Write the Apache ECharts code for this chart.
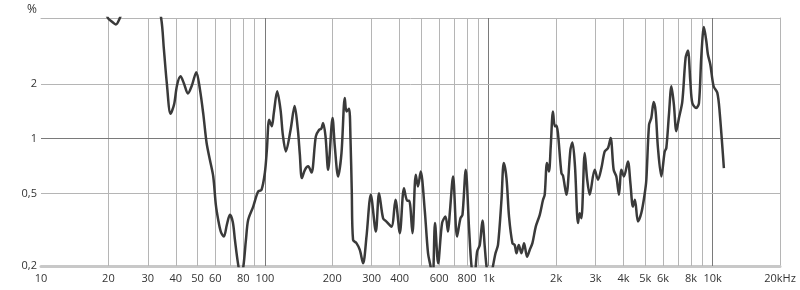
<!DOCTYPE html>
<html>
<head>
<meta charset="utf-8">
<script src="https://cdn.jsdelivr.net/npm/echarts@6/dist/echarts.min.js"></script>
<style>
html,body{margin:0;padding:0;background:#fff;}
#chart{width:800px;height:290px;}
</style>
</head>
<body>
<div id="chart"></div>
<script>
// Frequency (Hz)
const freq = [
18.3, 19.9, 20.7, 21.6, 22.5, 23.7, 27.7, 32.3, 34.4, 35.4, 36.5, 37.9, 39.3, 40.5, 42.0, 43.5, 45.3, 47.2, 49.4, 51.3,
53.1, 54.9, 56.8, 58.8, 60.4, 61.9, 63.6, 65.6, 67.6, 69.8, 71.9, 73.5, 75.7, 78.1, 80.2, 82.3, 84.2, 88.7, 93.3, 96.6,
100, 102.1, 104.5, 107.4, 109.7, 113.5, 117.5, 120.3, 124.1, 130.3, 135.8, 140.4, 143.3, 146.3, 151.0, 156.1, 161.6, 168.9, 174.8, 178.7,
182.0, 186.6, 191.7, 200.6, 205.3, 212.4, 219.9, 227.5, 231.5, 237.7, 241.3, 244.4, 247.7, 256.5, 265.5, 274.7, 284.4, 297.3, 313.1, 323.6,
337.3, 349.2, 367.8, 383.3, 400.6, 418.2, 432.5, 441.6, 456.2, 472.1, 483.1, 496.7, 517.6, 535.6, 549.4, 562.3, 575.4, 594.2, 618.8, 640.9,
657.8, 669.9, 692.9, 721.8, 747.6, 763.2, 789.3, 816.6, 837.5, 861.0, 887.2, 912.0, 937.6, 960.0, 977.2, 1009, 1042, 1072, 1100, 1140,
1167, 1200, 1232, 1276, 1306, 1330, 1362, 1400, 1438, 1483, 1524, 1567, 1622, 1690, 1748, 1778, 1820, 1858, 1892, 1936,
1972, 2004, 2037, 2112, 2147, 2223, 2317, 2366, 2428, 2505, 2547, 2593, 2684, 2748, 2825, 2973, 3077, 3186, 3297, 3410,
3504, 3614, 3715, 3817, 3913, 4018, 4186, 4293, 4406, 4498, 4640, 4806, 4966, 5058, 5200, 5322, 5455, 5566, 5700, 5902,
6109, 6212, 6383, 6546, 6715, 6885, 7074, 7322, 7574, 7758, 7951, 8117, 8451, 8690, 8905, 9145, 9374, 9528, 9770, 10104,
10497, 10747, 11230
];
// Distortion (%)
const distortion = [
6.0, 4.6, 4.40, 4.24, 4.6, 5.5, 7.0, 6.0, 4.6, 3.09, 2.0, 1.37, 1.54, 1.96, 2.20, 2.01, 1.77, 1.96, 2.32, 1.86,
1.36, 0.95, 0.766, 0.62, 0.433, 0.358, 0.308, 0.29, 0.336, 0.382, 0.349, 0.278, 0.21, 0.175, 0.2, 0.278, 0.358, 0.424, 0.513, 0.524,
0.65, 0.87, 1.27, 1.17, 1.39, 1.82, 1.44, 1.05, 0.851, 1.12, 1.51, 1.12, 0.817, 0.608, 0.675, 0.705, 0.652, 1.03, 1.12, 1.135,
1.22, 1.03, 0.675, 1.30, 0.907, 0.62, 0.834, 1.675, 1.41, 1.46, 0.987, 0.524, 0.278, 0.267, 0.245, 0.207, 0.29, 0.492, 0.309, 0.502,
0.366, 0.351, 0.329, 0.462, 0.303, 0.535, 0.456, 0.456, 0.303, 0.634, 0.546, 0.661, 0.407, 0.235, 0.2, 0.172, 0.344, 0.207, 0.344, 0.374,
0.309, 0.39, 0.62, 0.29, 0.366, 0.382, 0.675, 0.323, 0.2, 0.168, 0.24, 0.261, 0.355, 0.255, 0.2, 0.163, 0.197, 0.235, 0.261, 0.462,
0.735, 0.608, 0.374, 0.267, 0.261, 0.235, 0.261, 0.235, 0.267, 0.225, 0.245, 0.267, 0.329, 0.382, 0.462, 0.492, 0.735, 0.661, 0.907, 1.41,
1.17, 1.18, 1.075, 0.647, 0.626, 0.492, 0.87, 0.954, 0.705, 0.344, 0.39, 0.366, 0.834, 0.608, 0.492, 0.675, 0.595, 0.69, 0.851, 0.889,
1.01, 0.675, 0.62, 0.492, 0.675, 0.62, 0.75, 0.571, 0.424, 0.462, 0.351, 0.392, 0.492, 0.595, 1.19, 1.30, 1.59, 1.41, 0.889, 0.62,
0.851, 0.889, 1.36, 1.94, 1.54, 1.10, 1.30, 1.60, 2.78, 3.05, 2.07, 1.57, 1.475, 1.57, 2.84, 4.10, 3.43, 2.90, 2.55, 1.94,
1.785, 1.41, 0.69
];
// Tick labels
const xTickValues = [10, 20, 30, 40, 50, 60, 80, 100, 200, 300, 400, 600, 800, 1000, 2000, 3000, 4000, 5000, 6000, 8000, 10000, 20000];
const xTickLabels = ['10', '20', '30', '40', '50', '60', '80', '100', '200', '300', '400', '600', '800', '1k', '2k', '3k', '4k', '5k', '6k', '8k', '10k', '20kHz'];
const xGridLines = [20, 30, 40, 50, 60, 70, 80, 90, 100, 200, 300, 400, 500, 600, 700, 800, 900, 1000, 2000, 3000, 4000, 5000, 6000, 7000, 8000, 9000, 10000];
const xMajorLines = [100, 1000, 10000];
const yTickValues = [0.2, 0.5, 1, 2];
const yTickLabels = ['0,2', '0,5', '1', '2'];
const yGridLines = [0.5, 1, 2];
const yMajorLines = [1];
const xMin = 10, xMax = 20000, yMin = 0.2, yMax = 4.6;

const FONT = '"Open Sans", sans-serif';
const lightGrid = '#b5b5b5';
const darkGrid = '#7a7a7a';

const gridMarks = [];
xGridLines.forEach(v => gridMarks.push({
  xAxis: v,
  lineStyle: { color: xMajorLines.includes(v) ? darkGrid : lightGrid, width: 1, type: 'solid' }
}));
yGridLines.forEach(v => gridMarks.push({
  yAxis: v,
  lineStyle: { color: yMajorLines.includes(v) ? darkGrid : lightGrid, width: 1, type: 'solid' }
}));

const chart = echarts.init(document.getElementById('chart'), null, { renderer: 'canvas' });
chart.setOption({
  animation: false,
  backgroundColor: '#ffffff',
  title: {
    text: '%', left: 22, top: -1,
    textStyle: { fontFamily: FONT, fontSize: 12, fontWeight: 'normal', color: '#333' }
  },
  grid: { left: 41, right: 20, top: 18, bottom: 24, containLabel: false },
  xAxis: [{
    type: 'log', logBase: 10, min: xMin, max: xMax,
    axisLine: { show: true, onZero: false, lineStyle: { color: '#c8c8c8', width: 3 } },
    axisTick: { show: false },
    splitLine: { show: false },
    minorSplitLine: { show: false },
    axisLabel: {
      show: true,
      customValues: xTickValues,
      formatter: function (v) {
        const i = xTickValues.findIndex(t => Math.abs(t - v) / t < 1e-6);
        return i >= 0 ? xTickLabels[i] : '';
      },
      margin: 7,
      fontFamily: FONT, fontSize: 11, color: '#333',
      showMinLabel: true, showMaxLabel: true, hideOverlap: false
    }
  }, {
    type: 'log', logBase: 10, min: xMin, max: xMax, position: 'top',
    axisLine: { show: true, lineStyle: { color: lightGrid, width: 1 } },
    axisTick: { show: false }, splitLine: { show: false }, axisLabel: { show: false }
  }],
  yAxis: [{
    type: 'log', logBase: 10, min: yMin, max: yMax,
    axisLine: { show: false },
    axisTick: { show: false },
    splitLine: { show: false },
    axisLabel: {
      show: true,
      customValues: yTickValues,
      formatter: function (v) {
        const i = yTickValues.findIndex(t => Math.abs(t - v) / t < 1e-6);
        return i >= 0 ? yTickLabels[i] : '';
      },
      margin: 4,
      fontFamily: FONT, fontSize: 11, color: '#333',
      showMinLabel: true, showMaxLabel: true
    }
  }, {
    type: 'log', logBase: 10, min: yMin, max: yMax, position: 'right',
    axisLine: { show: true, lineStyle: { color: lightGrid, width: 1 } },
    axisTick: { show: false }, splitLine: { show: false }, axisLabel: { show: false }
  }],
  series: [{
    type: 'line',
    xAxisIndex: 0, yAxisIndex: 0,
    data: [],
    z: 1,
    silent: true,
    markLine: {
      silent: true,
      symbol: ['none', 'none'],
      label: { show: false },
      emphasis: { disabled: true },
      data: gridMarks
    }
  }, {
    type: 'line',
    xAxisIndex: 0, yAxisIndex: 0,
    data: freq.map((f, i) => [f, distortion[i]]),
    z: 5,
    clip: true,
    showSymbol: false,
    smooth: 0.3,
    lineStyle: { color: '#3a3a3a', width: 2.5 }
  }]
});
</script>
</body>
</html>
